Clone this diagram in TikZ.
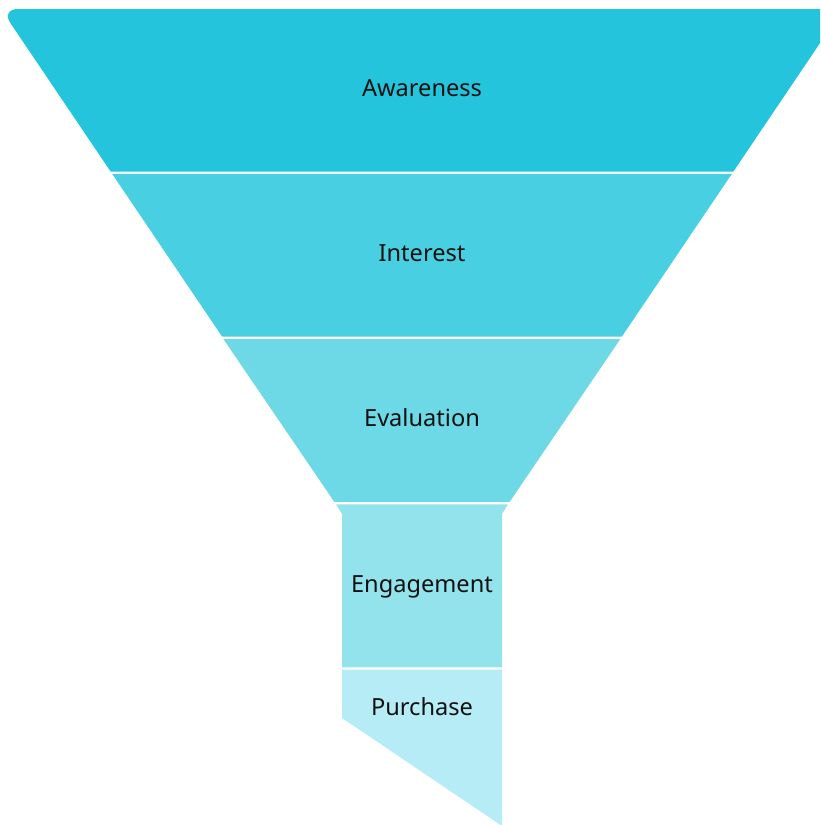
\documentclass[tikz,border=0pt]{standalone}
\usepackage{fontspec}
\setmainfont{Noto Sans}
\definecolor{bandA}{HTML}{24C4DC}
\definecolor{bandB}{HTML}{49CFE2}
\definecolor{bandC}{HTML}{6DD9E7}
\definecolor{bandD}{HTML}{92E3EC}
\definecolor{bandE}{HTML}{B6ECF5}
\definecolor{txt}{HTML}{111111}
\begin{document}
\begin{tikzpicture}[x=1pt,y=-1pt,
  lbl/.style={font=\fontsize{23.6}{27}\selectfont, text=txt, anchor=base, inner sep=0pt}]
\useasboundingbox (0,0) rectangle (820,825);
\clip (0,0) rectangle (820,825);
% funnel half width: hw(y) = 87.5 + (501-y)*0.678, centre x = 422
\fill[bandA] (110.6,171.5) [rounded corners=17] -- (0.9,9) -- (843,9) [sharp corners] -- (733.4,171.5) -- cycle;
\fill[bandB] (222.2,173.8) -- (621.8,173.8) -- (733.4-1.5,173.8) -- (621.8,336.7) -- (222.2,336.7) -- (110.6+1.5,173.8) -- cycle;
\fill[bandC] (110.6+112.9,339.2) -- (620.2,339.2) -- (509.7,501.8) -- (334.3,501.8) -- cycle;
\fill[bandD] (336,504.3) -- (508,504.3) -- (502,514) -- (502,667.3) -- (342,667.3) -- (342,514) -- cycle;
\fill[bandE] (342,669.7) -- (502,669.7) -- (502,826) -- (342,718) -- cycle;
\node[lbl] (awareness) at (422,96.5) {Awareness};
\node[lbl] (interest) at (422,261.5) {Interest};
\node[lbl] (evaluation) at (422,426.5) {Evaluation};
\node[lbl] (engagement) at (422,592) {Engagement};
\node[lbl] (purchase) at (422,715.5) {Purchase};
\end{tikzpicture}
\end{document}
